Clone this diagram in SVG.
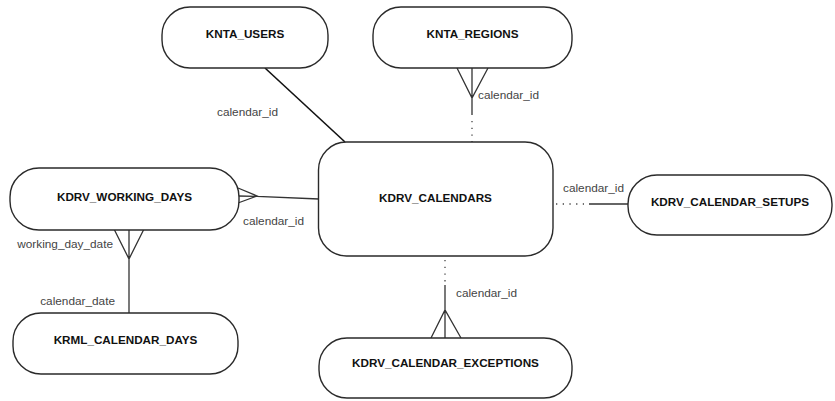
<svg xmlns="http://www.w3.org/2000/svg" width="835" height="401" viewBox="0 0 835 401">
<style>
.node rect{fill:#fff;stroke:#2a2a2a;stroke-width:1.4}
.node text{font-family:"Liberation Sans",Arial,sans-serif;font-weight:bold;font-size:11.7px;fill:#111;text-anchor:middle}
.lbl{font-family:"Liberation Sans",Arial,sans-serif;font-size:11.8px;fill:#444}
.ln{fill:none;stroke:#333;stroke-width:1.3}
.dot{fill:none;stroke:#444;stroke-width:1.3;stroke-dasharray:1.3 5.4}
</style>
<rect width="835" height="401" fill="#fff"/>
<g id="connectors">
<path class="ln" d="M265,68 L345,142" style="stroke:#111;stroke-width:1.6"/>
<path class="ln" d="M457,68 L472,98 L488,68 M472,68 L472,115"/>
<path class="dot" d="M472,121 L472,142"/>
<path class="ln" d="M238,188 L257,196 L238,203 M238,196 L257,196.3 L319,199"/>
<path class="ln" d="M114,229 L129,259 L144,229 M129,229 L129,313"/>
<path class="dot" d="M556,204 L584,204"/>
<path class="ln" d="M589,204 L628,204"/>
<path class="dot" d="M445,260 L445,283"/>
<path class="ln" d="M445,285 L445,338 M431,338 L445,310 L461,338"/>
<text class="lbl" x="217" y="116">calendar_id</text>
<text class="lbl" x="478" y="99">calendar_id</text>
<text class="lbl" x="243" y="225">calendar_id</text>
<text class="lbl" x="113" y="248" text-anchor="end">working_day_date</text>
<text class="lbl" x="115" y="305" text-anchor="end">calendar_date</text>
<text class="lbl" x="563" y="192">calendar_id</text>
<text class="lbl" x="456" y="297">calendar_id</text>
</g>
<g id="KNTA_USERS" class="node"><rect x="162" y="7" width="166" height="61" rx="28"/><text x="245" y="37.5">KNTA_USERS</text></g>
<g id="KNTA_REGIONS" class="node"><rect x="373" y="7" width="199" height="61" rx="28"/><text x="472.5" y="37.5">KNTA_REGIONS</text></g>
<g id="KDRV_CALENDARS" class="node"><rect x="318.5" y="142" width="234.5" height="114" rx="28"/><text x="435.5" y="202">KDRV_CALENDARS</text></g>
<g id="KDRV_WORKING_DAYS" class="node"><rect x="10" y="168" width="229" height="62" rx="29"/><text x="124.5" y="201">KDRV_WORKING_DAYS</text></g>
<g id="KRML_CALENDAR_DAYS" class="node"><rect x="13" y="313" width="225" height="61" rx="28"/><text x="125.5" y="344">KRML_CALENDAR_DAYS</text></g>
<g id="KDRV_CALENDAR_EXCEPTIONS" class="node"><rect x="319" y="338" width="253" height="60" rx="28"/><text x="445.5" y="367">KDRV_CALENDAR_EXCEPTIONS</text></g>
<g id="KDRV_CALENDAR_SETUPS" class="node"><rect x="628" y="175" width="204" height="60" rx="29"/><text x="730" y="206">KDRV_CALENDAR_SETUPS</text></g>
</svg>
